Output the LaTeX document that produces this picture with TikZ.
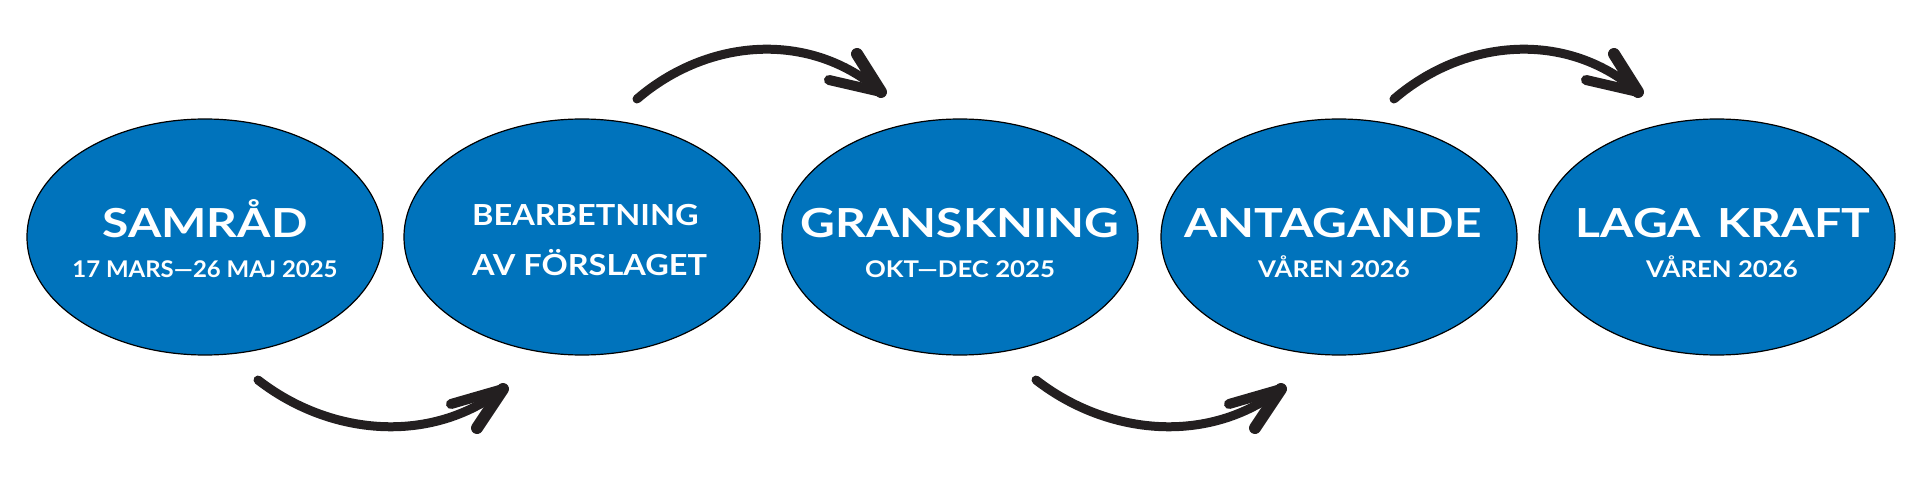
\documentclass[tikz,border=0pt]{standalone}
\usepackage{fontspec}
\setmainfont{Lato}[FakeStretch=1.12]
\newfontfamily\titlefont{Lato}[FakeStretch=1.2]
\usetikzlibrary{shapes.geometric}
\definecolor{stageblue}{RGB}{0,115,188}
\definecolor{ink}{RGB}{35,31,32}
\begin{document}
\begin{tikzpicture}[x=1pt,y=-1pt,
  stage/.style={ellipse, draw=black, line width=1.2pt, fill=stageblue,
    minimum width=356pt, minimum height=236pt, inner sep=0pt},
  bigtitle/.style={text=white, font=\titlefont\fontsize{40}{40}\selectfont\bfseries, anchor=base, inner sep=0pt},
  midtitle/.style={text=white, font=\fontsize{29}{29}\selectfont\bfseries, anchor=base west, inner sep=0pt},
  subline/.style={text=white, font=\fontsize{23}{23}\selectfont\bfseries, anchor=base, inner sep=0pt},
  shaft/.style={draw=ink, line width=9pt, line cap=round},
  barb/.style={draw=ink, line width=10pt, line cap=round}]
\useasboundingbox (0,0) rectangle (1920,500);

% stages
\node[stage] (s1) at (205,237) {};
\node[stage] (s2) at (582,237) {};
\node[stage] (s3) at (960,237) {};
\node[stage] (s4) at (1339,237) {};
\node[stage] (s5) at (1717,237) {};

% texts
\node[bigtitle] (s1t) at (205,237) {SAMRÅD};
\node[subline]  (s1d) at (205,277) {\scalebox{0.93}[1]{17 MARS—26 MAJ 2025}};
\node[midtitle] (s2t) at (472,225) {BEARBETNING};
\node[midtitle] (s2u) at (472,275) {AV FÖRSLAGET};
\node[bigtitle] (s3t) at (960,237) {GRANSKNING};
\node[subline]  (s3d) at (960,277) {OKT—DEC 2025};
\node[bigtitle] (s4t) at (1333,237) {ANTAGANDE};
\node[subline]  (s4d) at (1334,277) {VÅREN 2026};
\node[bigtitle] (s5t) at (1723,237) {LAGA\hspace{0.12em} KRAFT};
\node[subline]  (s5d) at (1722,277) {VÅREN 2026};

% bottom arrows
\foreach \dx/\n in {0/1,778/2}{
  \begin{scope}[shift={(\dx,0)}]
    \coordinate (b\n s) at (258,380);
    \coordinate (b\n e) at (503,389);
    \coordinate (b\n u) at (451,404);
    \coordinate (b\n l) at (477,428);
    \draw[shaft] (b\n s) .. controls (330,436) and (431,445) .. (b\n e);
    \draw[barb] (b\n e) -- (b\n u);
    \draw[line width=12pt, draw=ink, line cap=round] (b\n e) -- (b\n l);
  \end{scope}
}
% top arrows
\foreach \dx/\n in {0/1,757/2}{
  \begin{scope}[shift={(\dx,0)}]
    \coordinate (t\n s) at (637,99);
    \coordinate (t\n e) at (881,92);
    \coordinate (t\n u) at (857,54);
    \coordinate (t\n l) at (829,80);
    \draw[shaft] (t\n s) .. controls (708,38) and (810,30) .. (t\n e);
    \draw[line width=12pt, draw=ink, line cap=round] (t\n e) -- (t\n u);
    \draw[barb] (t\n e) -- (t\n l);
  \end{scope}
}
\end{tikzpicture}
\end{document}
